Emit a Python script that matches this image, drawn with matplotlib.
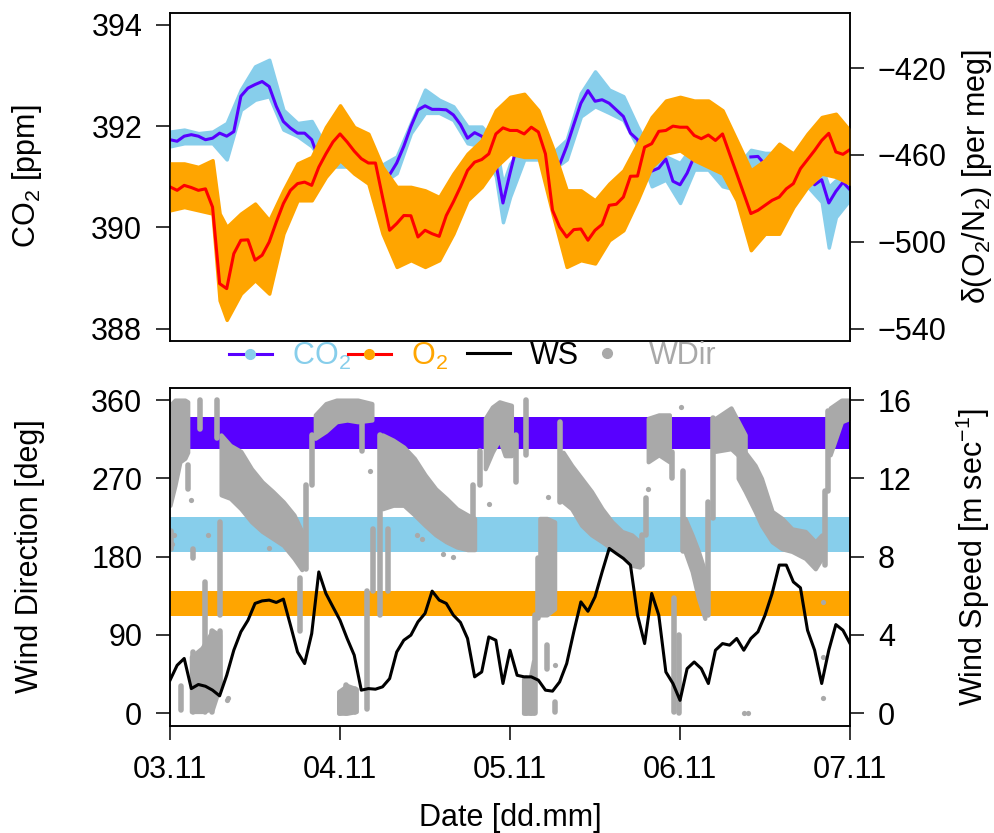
import numpy as np
import matplotlib.pyplot as plt
from matplotlib.lines import Line2D

plt.rcParams['font.family'] = ['Liberation Sans', 'DejaVu Sans']
plt.rcParams['mathtext.default'] = 'regular'
plt.rcParams['font.size'] = 22

PURPLE = '#5800FF'
SKY = '#87CEEB'
ORANGE = '#FFA500'
RED = '#FF0000'
GRAY = '#A9A9A9'

# hourly time axis (hours since 03.11 00:00)
hours = np.arange(97)

# hourly means
co2_hourly = [391.73, 391.70, 391.80, 391.83, 391.80, 391.73, 391.76, 391.86, 391.80, 391.89,
              392.59, 392.75, 392.82, 392.88, 392.78, 392.39, 392.09, 391.96, 391.86, 391.86,
              391.73, 391.34, 391.40, 391.43, 391.43, 391.40, 391.34, 391.27, 391.20, 391.14,
              391.04, 391.04, 391.27, 391.60, 391.99, 392.32, 392.40, 392.33, 392.33, 392.32,
              392.22, 392.03, 391.76, 391.87, 391.80, 391.63, 391.27, 390.48, 391.07, 391.63,
              391.53, 391.43, 391.50, 391.40, 391.30, 391.24, 391.60, 392.03, 392.45, 392.70,
              392.49, 392.52, 392.45, 392.32, 392.19, 391.86, 391.73, 391.27, 391.11, 391.17,
              391.35, 390.91, 390.84, 391.07, 391.40, 391.37, 391.45, 391.27, 391.37, 391.07,
              390.84, np.nan, 391.39, 391.40, 391.24, 391.34, 391.32, 391.35, 391.27, np.nan,
              391.04, 390.84, 390.94, 390.48, 390.71, 390.89, 390.74]
o2_hourly = [-474.7, -476.3, -474.0, -475.0, -476.3, -475.6, -484.0, -519.3, -521.6, -505.5,
             -499.3, -499.1, -508.5, -506.2, -500.1, -490.9, -482.4, -476.3, -473.2, -472.5,
             -474.0, -465.6, -459.5, -454.0, -450.3, -454.0, -458.2, -461.7, -463.7, -463.7,
             -479.4, -494.7, -491.6, -487.9, -488.0, -497.8, -494.7, -496.3, -497.5, -487.9,
             -481.6, -474.7, -467.1, -463.3, -462.1, -459.5, -450.3, -447.5, -448.7, -448.7,
             -450.3, -447.2, -449.4, -459.5, -485.5, -493.2, -497.8, -494.4, -494.1, -499.3,
             -494.7, -492.0, -483.2, -482.7, -479.4, -469.8, -469.7, -456.4, -454.8, -449.1,
             -448.7, -446.7, -447.2, -447.2, -451.0, -452.5, -450.8, -453.3, -450.3, -459.5,
             -468.6, -477.8, -487.0, -485.5, -483.2, -480.9, -479.4, -475.6, -473.2, -466.3,
             -462.1, -457.9, -453.3, -450.0, -458.6, -459.7, -457.5]
ws_hourly = [1.69, 2.45, 2.80, 1.26, 1.47, 1.38, 1.18, 0.89, 1.94, 3.22,
             4.16, 4.75, 5.61, 5.74, 5.78, 5.66, 5.83, 4.50, 3.13, 2.54,
             4.07, 7.22, 6.12, 5.43, 4.75, 3.82, 2.97, 1.18, 1.26, 1.23,
             1.35, 1.77, 3.13, 3.73, 3.99, 4.67, 5.10, 6.24, 5.78, 5.61,
             5.01, 4.64, 3.82, 1.86, 2.11, 3.90, 3.73, 1.52, 3.22, 1.94,
             1.86, 1.86, 1.69, 1.18, 1.13, 1.60, 2.54, 4.16, 5.69, 5.21,
             5.95, 7.22, 8.42, 8.16, 7.91, 7.57, 5.01, 3.56, 6.12, 5.01,
             2.11, 1.52, 0.66, 2.28, 2.62, 2.28, 1.52, 3.22, 3.56, 3.48,
             3.82, 3.22, 3.82, 4.16, 5.01, 6.12, 7.57, 7.57, 6.71, 6.41,
             4.24, 3.22, 1.52, 3.22, 4.53, 4.24, 3.56]

# spread of the raw (minute) measurements around the hourly means
co2_env_t = [0, 2, 4, 6, 8, 10, 12, 14, 16, 18, 20, 22, 24, 26, 28, 30, 32, 34, 36, 38,
             40, 42, 44, 46, 47, 48, 50, 52, 54, 56, 58, 60, 62, 64, 66, 68, 70, 72, 74, 76,
             78, 80, 82, 84, 86, 88, 90, 92, 93, 94, 96]
co2_env_hi = [391.89, 391.93, 391.86, 391.89, 392.06, 392.72, 393.18, 393.31, 392.32, 392.06,
              392.10, 391.60, 391.53, 391.47, 391.34, 391.24, 391.40, 392.06, 392.72, 392.52,
              392.39, 391.99, 391.99, 391.66, 390.85, 391.25, 391.66, 391.60, 391.47, 391.73,
              392.65, 393.08, 392.72, 392.59, 391.99, 391.47, 391.40, 391.27, 391.66, 391.66,
              391.66, 391.20, 391.53, 391.47, 391.47, 391.47, 391.27, 391.20, 390.80, 390.93,
              390.94]
co2_env_lo = [391.60, 391.66, 391.66, 391.66, 391.34, 392.32, 392.52, 392.59, 391.93, 391.80,
              391.60, 391.20, 391.20, 391.20, 391.07, 390.88, 391.07, 391.86, 392.26, 392.26,
              392.12, 391.66, 391.60, 391.01, 390.10, 390.60, 391.34, 391.34, 391.14, 391.34,
              392.19, 392.39, 392.26, 392.12, 391.60, 390.81, 390.94, 390.48, 391.14, 391.14,
              390.81, 390.74, 391.07, 391.14, 391.20, 391.14, 390.81, 390.50, 389.60, 390.20,
              390.55]
o2_env_t = [0, 2, 4, 6, 7, 8, 10, 12, 14, 16, 18, 20, 22, 24, 26, 28, 30, 32, 34, 36,
            38, 40, 42, 44, 46, 48, 50, 52, 54, 56, 58, 60, 62, 64, 66, 68, 70, 72, 74, 76,
            78, 80, 82, 84, 86, 88, 90, 92, 94, 96]
o2_env_hi = [-463.9, -463.9, -465.5, -462.4, -487.0, -493.2, -487.0, -482.4, -490.1, -476.3,
             -463.9, -460.9, -447.1, -437.1, -447.1, -450.2, -465.5, -474.7, -474.7, -476.3,
             -479.4, -468.6, -459.4, -453.2, -439.4, -433.2, -431.8, -439.4, -456.4, -476.3,
             -476.3, -480.9, -473.2, -467.1, -454.8, -442.5, -434.9, -433.2, -434.9, -434.9,
             -439.4, -453.2, -467.1, -462.4, -454.8, -459.4, -450.2, -442.5, -441.0, -448.8]
o2_env_lo = [-485.5, -484.0, -485.5, -487.0, -527.0, -536.0, -523.9, -517.7, -523.9, -496.3,
             -480.9, -480.9, -470.1, -462.4, -468.6, -473.2, -496.3, -511.6, -508.5, -511.6,
             -508.5, -496.3, -480.9, -474.7, -465.5, -459.4, -460.9, -460.9, -487.0, -511.6,
             -508.5, -510.0, -499.3, -494.7, -480.9, -465.5, -459.4, -457.9, -462.4, -465.5,
             -468.6, -480.9, -503.9, -496.3, -496.3, -484.0, -474.7, -468.6, -470.1, -473.2]

# wind direction: dense clusters (band id, time, lower, upper)
wdir_band_id = [1]*5 + [2]*9 + [3]*6 + [4]*10 + [5]*5 + [6]*3 + [7]*9 + [8]*3 + [9]*4 + \
               [10]*3 + [11]*10 + [12]*3 + [13]*3 + [14]*4 + [15]*3
wdir_band_t = [0, 0.7, 1.4, 2.1, 2.5,
               7.2, 8.5, 10, 11.5, 13, 14.5, 16, 17.5, 18.6,
               20.5, 22, 23.5, 25, 26.5, 28.5,
               30, 31.5, 33, 34.5, 36, 37.5, 39, 40.5, 42, 43,
               44.5, 45.5, 46.5, 47.3, 48.2,
               52.2, 53.2, 54.3,
               55.5, 56.7, 58.1, 59.5, 61, 62.4, 63.8, 65.2, 66.3,
               67.5, 69, 70.5,
               72.7, 73.7, 74.6, 75.5,
               77, 79.2, 81.2,
               80.2, 81.2, 82.6, 83.5, 85, 86.4, 87.8, 89.7, 91.1, 92,
               93.2, 94.8, 96,
               23.8, 25, 26.3,
               3, 4.5, 6, 7,
               49.9, 50.6, 51.3]
wdir_band_hi = [354, 360, 360, 360, 358,
                320, 308, 301, 281, 266, 255, 243, 228, 209,
                343, 356, 360, 360, 360, 356,
                320, 314, 306, 293, 274, 258, 247, 235, 228, 224,
                339, 352, 358, 356, 354,
                224, 224, 220,
                300, 285, 270, 255, 235, 220, 209, 205, 197,
                339, 343, 343,
                224, 205, 186, 163,
                339, 351, 320,
                310, 300, 285, 270, 232, 224, 212, 209, 197, 205,
                351, 360, 360,
                25, 32, 28,
                65, 75, 95, 90,
                40, 30, 60]
wdir_band_lo = [239, 262, 289, 293, 300,
                251, 247, 235, 220, 209, 201, 193, 178, 165,
                316, 324, 335, 337, 335, 337,
                235, 239, 239, 228, 216, 205, 197, 191, 188, 188,
                281, 300, 315, 296, 296,
                113, 113, 120,
                243, 235, 216, 205, 197, 189, 182, 170, 168,
                289, 297, 289,
                186, 163, 132, 109,
                301, 304, 289,
                270, 255, 232, 216, 197, 189, 186, 178, 166, 178,
                297, 335, 339,
                0, 0, 2,
                2, 2, 5, 30,
                0, 0, 0]

# wind direction: fast swings (time, lower, upper)
wdir_col_t = [0.2, 1.6, 2.6, 3.3, 3.3, 4.2, 4.9, 5.9, 6.6, 7.0,
              7.1, 18.4, 19.2, 20.0, 24.0, 24.9, 26.1, 27.1, 27.8, 28.7,
              29.6, 30.8, 42.8, 43.8, 48.9, 50.2, 50.2, 51.0, 51.5, 52.0,
              53.2, 54.4, 55.0, 66.6, 67.2, 70.8, 71.2, 71.8, 72.4, 76.0,
              76.7, 92.4, 92.9]
wdir_col_lo = [189, 4, 258, 178, 2, 327, 2, 2, 316, 113,
               32, 94, 166, 262, 0, 0, 2, 301, 5, 140,
               113, 140, 189, 262, 266, 297, 0, 0, 0, 109,
               51, 2, 243, 170, 205, 270, 2, 0, 186, 113,
               224, 170, 255]
wdir_col_hi = [209, 31, 285, 189, 70, 360, 151, 94, 360, 220,
               94, 155, 262, 320, 21, 32, 28, 354, 140, 212,
               320, 212, 262, 301, 320, 360, 40, 40, 113, 178,
               78, 13, 335, 205, 247, 300, 132, 90, 278, 243,
               339, 255, 347]

# wind direction: isolated readings
wdir_pt_t = [0.3, 0.5, 2.9, 8.0, 8.2, 14.0, 28.2, 34.8, 38.5, 40.0, 53.4, 54.4,
             67.5, 72.2, 81.0, 81.6, 92.2, 92.2, 92.2, 45.0, 5.3, 35.6]
wdir_pt_v = [195, 205, 245, 15, 17, 190, 278, 205, 183, 180, 249, 55,
             258, 352, 0, 0, 128, 65, 17, 240, 205, 200]

# wind sectors
sector_lo = [304, 185, 112]
sector_hi = [340, 225, 141]
sector_colors = [PURPLE, SKY, ORANGE]

day_ticks = [0, 24, 48, 72, 96]
day_labels = ['03.11', '04.11', '05.11', '06.11', '07.11']

fig = plt.figure(figsize=(9.95, 8.33), dpi=100)
ax1 = fig.add_axes([0.1709, 0.591, 0.6834, 0.3938])
ax1r = ax1.twinx()
ax2 = fig.add_axes([0.1709, 0.1287, 0.6834, 0.4061])
ax2r = ax2.twinx()

# ---- top panel: CO2 and O2
ax1.fill_between(co2_env_t, co2_env_lo, co2_env_hi, facecolor=SKY, edgecolor=SKY, lw=2.5)
ax1.plot(hours, co2_hourly, color=PURPLE, lw=2.2)
ax1r.fill_between(o2_env_t, o2_env_lo, o2_env_hi, facecolor=ORANGE, edgecolor=ORANGE, lw=2.5)
ax1r.plot(hours, o2_hourly, color=RED, lw=2.2)

ax1.set_xlim(0, 96)
ax1.set_ylim(387.76, 394.24)
ax1.set_yticks([388, 390, 392, 394])
ax1.set_xticks([])
ax1r.set_ylim(-545.6, -394.4)
ax1r.set_yticks([-540, -500, -460, -420])

# ---- bottom panel: wind direction and speed
for lo, hi, c in zip(sector_lo, sector_hi, sector_colors):
    ax2.axhspan(lo, hi, color=c, lw=0)

band_id = np.array(wdir_band_id)
band_t = np.array(wdir_band_t, dtype=float)
band_lo = np.array(wdir_band_lo, dtype=float)
band_hi = np.array(wdir_band_hi, dtype=float)
for b in np.unique(band_id):
    m = band_id == b
    ax2.fill_between(band_t[m], band_lo[m], band_hi[m], facecolor=GRAY, edgecolor=GRAY, lw=3)
cols = ax2.vlines(wdir_col_t, wdir_col_lo, wdir_col_hi, color=GRAY, lw=4)
cols.set_capstyle('round')
ax2.scatter(wdir_pt_t, wdir_pt_v, s=14, color=GRAY, lw=0)

ax2r.plot(hours, ws_hourly, color='black', lw=2.2)

ax2.set_xlim(0, 96)
ax2.set_ylim(-14.4, 374.4)
ax2.set_yticks([0, 90, 180, 270, 360])
ax2.set_xticks(day_ticks)
ax2.set_xticklabels(day_labels)
ax2r.set_ylim(-0.64, 16.64)
ax2r.set_yticks([0, 4, 8, 12, 16])

for a in (ax1, ax1r, ax2, ax2r):
    a.tick_params(length=10, width=1.1, pad=10, labelsize=22)
    for sp in a.spines.values():
        sp.set_linewidth(1.1)
ax2.tick_params(axis='x', pad=11)

# axis titles
fig.text(27 / 995, 1 - 176.7 / 833, 'CO$_2$ [ppm]', rotation=90, ha='center', va='center')
fig.text(30 / 995, 1 - 556.6 / 833, 'Wind Direction [deg]', rotation=90, ha='center', va='center')
fig.text(977 / 995, 1 - 176.7 / 833, 'δ(O$_2$/N$_2$) [per meg]', rotation=90, ha='center', va='center')
fig.text(973 / 995, 1 - 556.6 / 833, 'Wind Speed [m sec$^{-1}$]', rotation=90, ha='center', va='center')
fig.text(0.5 * (170 + 850) / 995, 1 - 818 / 833, 'Date [dd.mm]', ha='center', va='center')

# legend between panels, one entry per slot
handles = [
    Line2D([], [], color=PURPLE, lw=2.2, marker='o', ms=7, mfc=SKY, mec=SKY),
    Line2D([], [], color=RED, lw=2.2, marker='o', ms=7, mfc=ORANGE, mec=ORANGE),
    Line2D([], [], color='black', lw=2.2),
    Line2D([], [], ls='none', marker='o', ms=7, mfc=GRAY, mec=GRAY),
]
labels = ['CO$_2$', 'O$_2$', 'WS', 'WDir']
text_colors = [SKY, ORANGE, 'black', GRAY]
slot_x = [229, 348, 467, 586]
for h, lab, tc, x in zip(handles, labels, text_colors, slot_x):
    leg = fig.legend([h], [lab], loc='center left', bbox_to_anchor=(x / 995, 1 - 356 / 833),
                     frameon=False, borderpad=0, borderaxespad=0, handlelength=1.4,
                     handletextpad=0.65, numpoints=1, fontsize=22)
    leg.get_texts()[0].set_color(tc)

fig.savefig('out.png', dpi=100)
